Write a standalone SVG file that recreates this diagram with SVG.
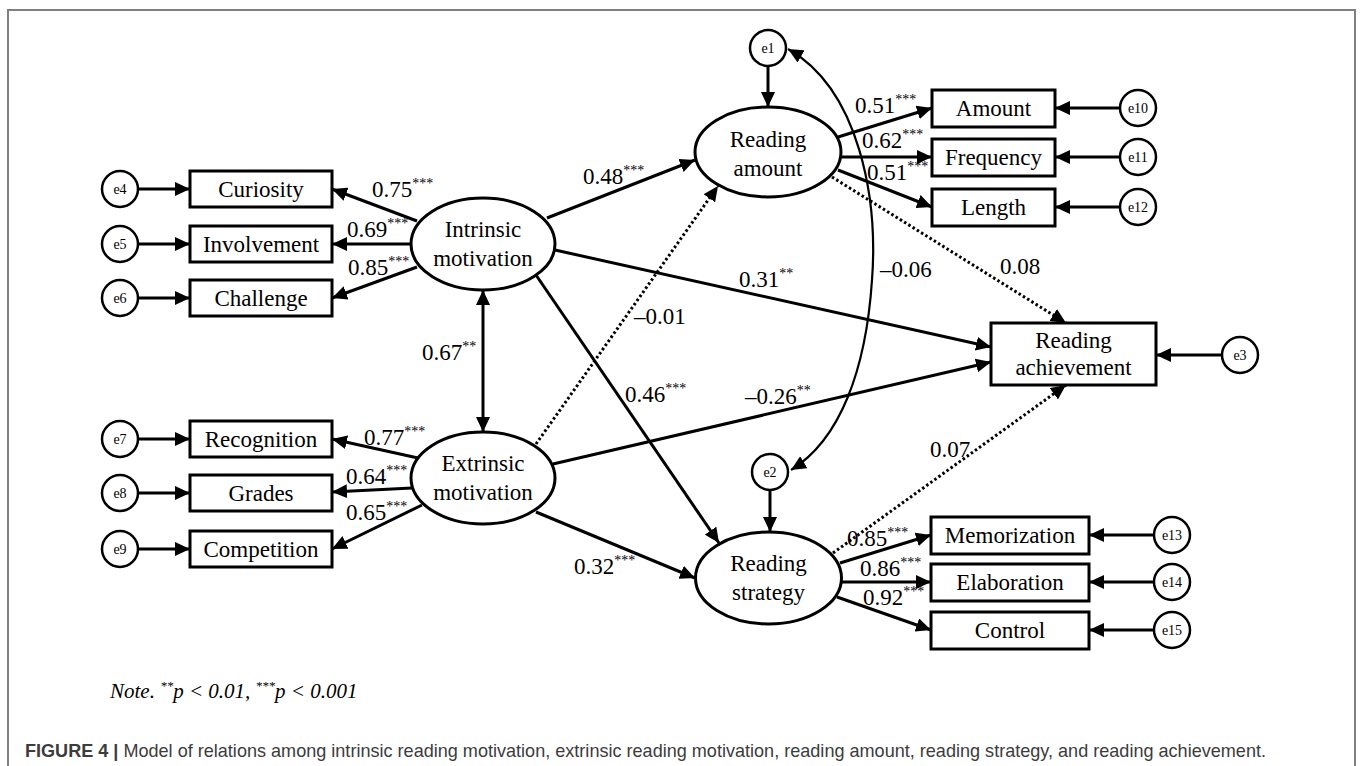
<svg xmlns="http://www.w3.org/2000/svg" width="1360" height="766" viewBox="0 0 1360 766">
<defs>
<marker id="ah" markerUnits="userSpaceOnUse" markerWidth="16" markerHeight="14" refX="15" refY="7" orient="auto-start-reverse"><path d="M0,0 L15,7 L0,14 z" fill="#000"/></marker>
<style>
.n{fill:#fff;stroke:#000;stroke-width:3}
.e{fill:#fff;stroke:#000;stroke-width:2.5}
.t{font-family:"Liberation Serif","Times New Roman",serif;font-size:23px;fill:#000;text-anchor:middle}
.s{font-family:"Liberation Serif","Times New Roman",serif;font-size:14px;fill:#000;text-anchor:middle}
.l{font-family:"Liberation Serif","Times New Roman",serif;font-size:23px;fill:#000}
.a{fill:none;stroke:#000;stroke-width:3;marker-end:url(#ah)}
.d{fill:none;stroke:#000;stroke-width:3;stroke-dasharray:2.5 2.5;marker-end:url(#ah)}
</style>
</defs>
<rect width="1360" height="766" fill="#fff"/>
<path d="M8,770 L8,10 L1355,10 L1355,770" fill="none" stroke="#808080" stroke-width="2"/>

<g id="connectors">
<line class="a" x1="138" y1="189" x2="190" y2="189"/>
<line class="a" x1="138" y1="244" x2="190" y2="244"/>
<line class="a" x1="138" y1="298" x2="190" y2="298"/>
<line class="a" x1="138" y1="439" x2="190" y2="439"/>
<line class="a" x1="138" y1="493" x2="190" y2="493"/>
<line class="a" x1="138" y1="549" x2="190" y2="549"/>
<line class="a" x1="417" y1="221" x2="332" y2="189"/>
<line class="a" x1="411" y1="244" x2="332" y2="244"/>
<line class="a" x1="417" y1="267" x2="332" y2="298"/>
<line class="a" x1="418" y1="458" x2="332" y2="439"/>
<line class="a" x1="412" y1="488" x2="332" y2="492"/>
<line class="a" x1="422" y1="505" x2="332" y2="549"/>
<line class="a" x1="483" y1="290" x2="483" y2="432" marker-start="url(#ah)"/>
<line class="a" x1="547" y1="218" x2="695" y2="160"/>
<line class="a" x1="555" y1="250" x2="991" y2="347"/>
<line class="a" x1="536" y1="275" x2="719" y2="543"/>
<line class="a" x1="536" y1="512" x2="695" y2="578"/>
<line class="a" x1="553" y1="464" x2="991" y2="362"/>
<line class="d" x1="536" y1="444" x2="718" y2="186"/>
<line class="d" x1="832" y1="177" x2="1066" y2="323"/>
<line class="d" x1="833" y1="553" x2="1066" y2="385"/>
<line class="a" x1="768" y1="66" x2="768" y2="107"/>
<line class="a" x1="770" y1="490" x2="770" y2="532"/>
<line class="a" x1="1222" y1="355" x2="1156" y2="355"/>
<line class="a" x1="838" y1="137" x2="932" y2="108"/>
<line class="a" x1="841" y1="157" x2="932" y2="157"/>
<line class="a" x1="838" y1="170" x2="932" y2="207"/>
<line class="a" x1="1120" y1="108" x2="1055" y2="108"/>
<line class="a" x1="1120" y1="157" x2="1055" y2="157"/>
<line class="a" x1="1120" y1="207" x2="1055" y2="207"/>
<line class="a" x1="840" y1="563" x2="931" y2="535"/>
<line class="a" x1="842" y1="582" x2="931" y2="582"/>
<line class="a" x1="837" y1="597" x2="931" y2="630"/>
<line class="a" x1="1154" y1="535" x2="1089" y2="535"/>
<line class="a" x1="1154" y1="582" x2="1089" y2="582"/>
<line class="a" x1="1154" y1="630" x2="1089" y2="630"/>
<path d="M788,49 C860,90 878,200 872,280 C866,370 840,440 791,470" fill="none" stroke="#000" stroke-width="2.2" marker-start="url(#ah)" marker-end="url(#ah)"/>
</g>

<g id="labels">
<text class="l" x="372" y="197">0.75<tspan font-size="14" dy="-9">***</tspan></text>
<text class="l" x="347" y="237">0.69<tspan font-size="14" dy="-9">***</tspan></text>
<text class="l" x="348" y="275">0.85<tspan font-size="14" dy="-9">***</tspan></text>
<text class="l" x="364" y="445">0.77<tspan font-size="14" dy="-9">***</tspan></text>
<text class="l" x="346" y="484">0.64<tspan font-size="14" dy="-9">***</tspan></text>
<text class="l" x="346" y="520">0.65<tspan font-size="14" dy="-9">***</tspan></text>
<text class="l" x="583" y="184">0.48<tspan font-size="14" dy="-9">***</tspan></text>
<text class="l" x="422" y="360">0.67<tspan font-size="14" dy="-9">**</tspan></text>
<text class="l" x="634" y="324">–0.01</text>
<text class="l" x="625" y="402">0.46<tspan font-size="14" dy="-9">***</tspan></text>
<text class="l" x="574" y="574">0.32<tspan font-size="14" dy="-9">***</tspan></text>
<text class="l" x="739" y="287">0.31<tspan font-size="14" dy="-9">**</tspan></text>
<text class="l" x="745" y="404">–0.26<tspan font-size="14" dy="-9">**</tspan></text>
<text class="l" x="880" y="277">–0.06</text>
<text class="l" x="1000" y="274">0.08</text>
<text class="l" x="930" y="457">0.07</text>
<text class="l" x="855" y="113">0.51<tspan font-size="14" dy="-9">***</tspan></text>
<text class="l" x="862" y="148">0.62<tspan font-size="14" dy="-9">***</tspan></text>
<text class="l" x="867" y="180">0.51<tspan font-size="14" dy="-9">***</tspan></text>
<text class="l" x="847" y="546">0.85<tspan font-size="14" dy="-9">***</tspan></text>
<text class="l" x="860" y="576">0.86<tspan font-size="14" dy="-9">***</tspan></text>
<text class="l" x="863" y="605">0.92<tspan font-size="14" dy="-9">***</tspan></text>
</g>

<g id="e4"><circle class="e" cx="120" cy="189" r="18"/><text class="s" x="120" y="194">e4</text></g>
<g id="e5"><circle class="e" cx="120" cy="244" r="18"/><text class="s" x="120" y="249">e5</text></g>
<g id="e6"><circle class="e" cx="120" cy="298" r="18"/><text class="s" x="120" y="303">e6</text></g>
<g id="e7"><circle class="e" cx="120" cy="439" r="18"/><text class="s" x="120" y="444">e7</text></g>
<g id="e8"><circle class="e" cx="120" cy="493" r="18"/><text class="s" x="120" y="498">e8</text></g>
<g id="e9"><circle class="e" cx="120" cy="549" r="18"/><text class="s" x="120" y="554">e9</text></g>

<g id="curiosity"><rect class="n" x="190" y="171" width="142" height="36"/><text class="t" x="261" y="197">Curiosity</text></g>
<g id="involvement"><rect class="n" x="190" y="226" width="142" height="36"/><text class="t" x="261" y="252">Involvement</text></g>
<g id="challenge"><rect class="n" x="190" y="280" width="142" height="36"/><text class="t" x="261" y="306">Challenge</text></g>
<g id="recognition"><rect class="n" x="190" y="421" width="142" height="36"/><text class="t" x="261" y="447">Recognition</text></g>
<g id="grades"><rect class="n" x="190" y="475" width="142" height="36"/><text class="t" x="261" y="501">Grades</text></g>
<g id="competition"><rect class="n" x="190" y="531" width="142" height="36"/><text class="t" x="261" y="557">Competition</text></g>

<g id="intrinsic"><ellipse class="n" cx="483" cy="244" rx="72" ry="46"/><text class="t" x="483" y="237">Intrinsic</text><text class="t" x="483" y="266">motivation</text></g>
<g id="extrinsic"><ellipse class="n" cx="483" cy="478" rx="72" ry="46"/><text class="t" x="483" y="471">Extrinsic</text><text class="t" x="483" y="500">motivation</text></g>

<g id="e1"><circle class="e" cx="768" cy="48" r="18"/><text class="s" x="768" y="53">e1</text></g>
<g id="reading-amount"><ellipse class="n" cx="768" cy="152" rx="73" ry="45"/><text class="t" x="768" y="147">Reading</text><text class="t" x="768" y="176">amount</text></g>
<g id="amount"><rect class="n" x="932" y="90" width="123" height="37"/><text class="t" x="993.5" y="116">Amount</text></g>
<g id="frequency"><rect class="n" x="932" y="139" width="123" height="37"/><text class="t" x="993.5" y="165">Frequency</text></g>
<g id="length"><rect class="n" x="932" y="189" width="123" height="37"/><text class="t" x="993.5" y="215">Length</text></g>
<g id="e10"><circle class="e" cx="1138" cy="108" r="18"/><text class="s" x="1138" y="113">e10</text></g>
<g id="e11"><circle class="e" cx="1138" cy="157" r="18"/><text class="s" x="1138" y="162">e11</text></g>
<g id="e12"><circle class="e" cx="1138" cy="207" r="18"/><text class="s" x="1138" y="212">e12</text></g>

<g id="reading-achievement"><rect class="n" x="991" y="323" width="165" height="62"/><text class="t" x="1073.5" y="348">Reading</text><text class="t" x="1073.5" y="375">achievement</text></g>
<g id="e3"><circle class="e" cx="1240" cy="355" r="18"/><text class="s" x="1240" y="360">e3</text></g>

<g id="e2"><circle class="e" cx="770" cy="472" r="18"/><text class="s" x="770" y="477">e2</text></g>
<g id="reading-strategy"><ellipse class="n" cx="768.5" cy="578" rx="73" ry="46"/><text class="t" x="768.5" y="571">Reading</text><text class="t" x="768.5" y="600">strategy</text></g>
<g id="memorization"><rect class="n" x="931" y="517" width="158" height="37"/><text class="t" x="1010" y="543">Memorization</text></g>
<g id="elaboration"><rect class="n" x="931" y="564" width="158" height="37"/><text class="t" x="1010" y="590">Elaboration</text></g>
<g id="control"><rect class="n" x="931" y="612" width="158" height="37"/><text class="t" x="1010" y="638">Control</text></g>
<g id="e13"><circle class="e" cx="1172" cy="535" r="18"/><text class="s" x="1172" y="540">e13</text></g>
<g id="e14"><circle class="e" cx="1172" cy="582" r="18"/><text class="s" x="1172" y="587">e14</text></g>
<g id="e15"><circle class="e" cx="1172" cy="630" r="18"/><text class="s" x="1172" y="635">e15</text></g>

<text x="110" y="698" font-family="'Liberation Serif','Times New Roman',serif" font-style="italic" font-size="21" fill="#000">Note. <tspan font-size="13" dy="-8">**</tspan><tspan dy="8">p &lt; 0.01, </tspan><tspan font-size="13" dy="-8">***</tspan><tspan dy="8">p &lt; 0.001</tspan></text>
<text x="25" y="757" font-family="'Liberation Sans',Arial,sans-serif" font-size="19" fill="#3c3c3c" textLength="1241" lengthAdjust="spacingAndGlyphs"><tspan font-weight="bold">FIGURE 4 | </tspan>Model of relations among intrinsic reading motivation, extrinsic reading motivation, reading amount, reading strategy, and reading achievement.</text>
</svg>
